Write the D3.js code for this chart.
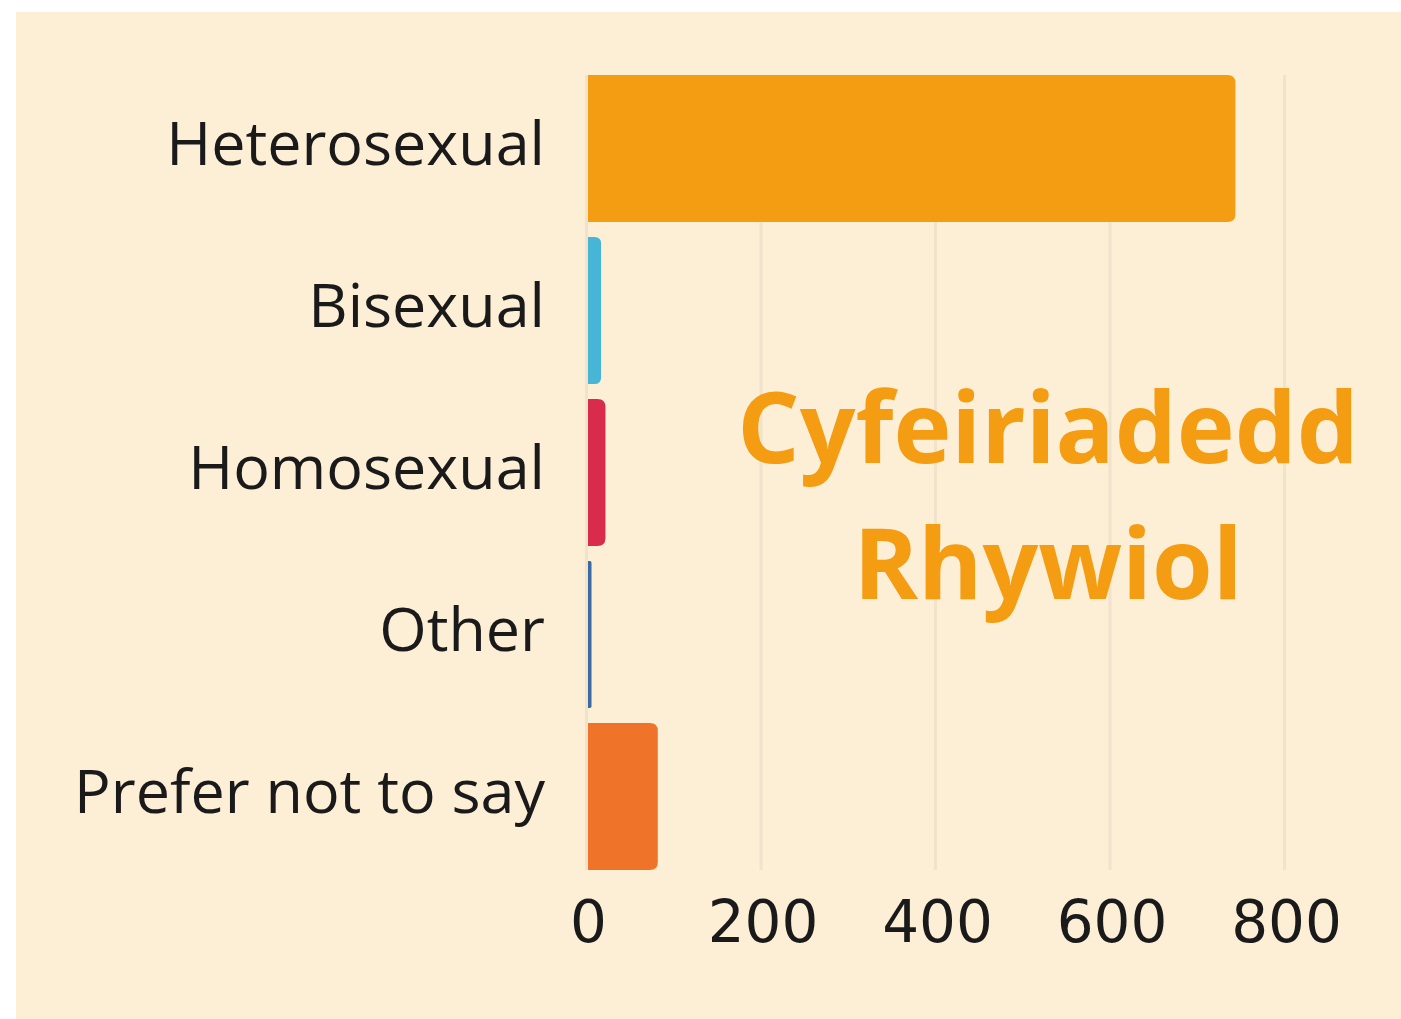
<!DOCTYPE html>
<html>
<head>
<meta charset="utf-8">
<script src="https://cdnjs.cloudflare.com/ajax/libs/d3/7.8.5/d3.min.js"></script>
<style>
  body { margin: 0; background: #fff; }
  svg { display: block; }
</style>
</head>
<body>
<div id="chart"></div>
<script>
// data
var categories = ["Heterosexual", "Bisexual", "Homosexual", "Other", "Prefer not to say"];
var counts = [742, 15, 20, 4, 80];
var barColors = ["#F49C12", "#47B5D6", "#D92B4C", "#3A69A3", "#F0732A"];
var ticks = [0, 200, 400, 600, 800];
var titleLines = ["Cyfeiriadedd", "Rhywiol"];

var width = 1401, height = 1019;

var svg = d3.select("#chart").append("svg")
    .attr("width", width)
    .attr("height", height);

// beige card
svg.append("rect")
    .attr("x", 16).attr("y", 12)
    .attr("width", width - 16).attr("height", height - 12)
    .attr("fill", "#FDEED6");

var x = d3.scaleLinear()
    .domain([0, 800])
    .range([588, 1286]);

var y = d3.scaleBand()
    .domain(categories)
    .range([67.5, 877.5])
    .paddingInner(15 / 162)
    .paddingOuter(15 / 324);

var plotTop = y(categories[0]);
var plotBottom = y(categories[categories.length - 1]) + y.bandwidth();

// gridlines
svg.append("g")
  .selectAll("line")
  .data(ticks)
  .enter()
  .append("line")
    .attr("x1", function(d) { return x(d) - 1.5; })
    .attr("x2", function(d) { return x(d) - 1.5; })
    .attr("y1", plotTop)
    .attr("y2", plotBottom)
    .attr("stroke", "#F0E2CB")
    .attr("stroke-width", 3);

// bars, square on the left, rounded on the right
function barPath(x0, x1, y0, h) {
  var w = x1 - x0;
  var r = Math.min(8, w / 2);
  return "M" + x0 + "," + y0 +
    "H" + (x1 - r) +
    "Q" + x1 + "," + y0 + " " + x1 + "," + (y0 + r) +
    "V" + (y0 + h - r) +
    "Q" + x1 + "," + (y0 + h) + " " + (x1 - r) + "," + (y0 + h) +
    "H" + x0 + "Z";
}

svg.append("g")
  .selectAll("path")
  .data(categories)
  .enter()
  .append("path")
    .attr("d", function(d, i) { return barPath(x(0), x(counts[i]), y(d), y.bandwidth()); })
    .attr("fill", function(d, i) { return barColors[i]; });

// category labels
svg.append("g")
  .selectAll("text")
  .data(categories)
  .enter()
  .append("text")
    .attr("x", 545)
    .attr("y", function(d) { return y(d) + y.bandwidth() / 2 + 16; })
    .attr("text-anchor", "end")
    .attr("font-family", "'Open Sans', sans-serif")
    .attr("font-size", 61)
    .attr("fill", "#1a1a1a")
    .text(function(d) { return d; });

// x axis
var xAxis = d3.axisBottom(x).tickValues(ticks).tickSize(0).tickPadding(0);
var axisG = svg.append("g")
    .attr("transform", "translate(0," + 942 + ")")
    .call(xAxis);
axisG.select(".domain").remove();
axisG.selectAll("text")
    .attr("dy", 0)
    .attr("y", 0)
    .attr("font-family", "'DejaVu Sans', sans-serif")
    .attr("font-size", 58)
    .attr("fill", "#1a1a1a");

// title
svg.append("g")
  .selectAll("text")
  .data(titleLines)
  .enter()
  .append("text")
    .attr("x", 1048)
    .attr("y", function(d, i) { return 463 + i * 136; })
    .attr("text-anchor", "middle")
    .attr("font-family", "'Open Sans', sans-serif")
    .attr("font-weight", "bold")
    .attr("font-size", 98)
    .attr("fill", "#F49C12")
    .text(function(d) { return d; });
</script>
</body>
</html>
